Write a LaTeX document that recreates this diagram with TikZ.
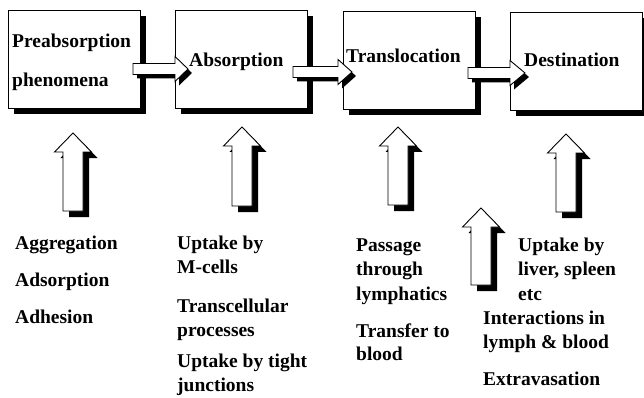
\documentclass[tikz,border=0pt]{standalone}
\usepackage{fontspec}
\setmainfont{Liberation Serif}
\usetikzlibrary{shadows}
\newcommand\uparrshape[3]{(#1,#2) -- (#1+18.5,#2+19) -- (#1+10,#2+19) -- (#1+10,#3) -- (#1-10,#3) -- (#1-10,#2+19) -- (#1-18.5,#2+19) -- cycle}
\newcommand\rarrshape[4]{(#1,#4-5.5) -- (#2,#4-5.5) -- (#2,#4-12.5) -- (#3,#4) -- (#2,#4+12.5) -- (#2,#4+5.5) -- (#1,#4+5.5) -- cycle}
\tikzset{
  boxnode/.style={draw, fill=white, line width=0.9pt, minimum width=132pt, minimum height=98pt,
    anchor=north west, inner sep=0pt,
    general shadow={fill=black, shadow xshift=6pt, shadow yshift=-6pt}},
  lbl/.style={anchor=base west, inner sep=0pt, font=\bfseries\fontsize{19.5}{24}\selectfont},
  blockbody/.style={fill=white, draw=black, line width=0.9pt, line join=miter},
  blockshadow/.style={fill=black},
}
\begin{document}
\begin{tikzpicture}[x=1pt, y=-1pt]
\useasboundingbox (0,0) rectangle (644,398);
% stage boxes
\node[boxnode] (b1) at (8,10) {};
\node[boxnode] (b2) at (175,10) {};
\node[boxnode] (b3) at (343,11) {};
\node[boxnode] (b4) at (510,12) {};
\node[lbl] (t1a) at (12,48) {Preabsorption};
\node[lbl] (t1b) at (12,87) {phenomena};
\node[lbl] (t2) at (189,67) {Absorption};
\node[lbl] (t3) at (346,63) {Translocation};
\node[lbl] (t4) at (524,67) {Destination};
% horizontal block arrows between boxes
\fill[blockshadow, shift={(4,4)}] \rarrshape{133}{175}{188}{69};
\filldraw[blockbody] \rarrshape{133}{175}{188}{69};
\fill[blockshadow, shift={(4,4)}] \rarrshape{293}{338}{352}{72};
\filldraw[blockbody] \rarrshape{293}{338}{352}{72};
\fill[blockshadow, shift={(4,4)}] \rarrshape{468}{510}{525}{73};
\filldraw[blockbody] \rarrshape{468}{510}{525}{73};
% vertical block arrows
\foreach \cx/\tip/\bot in {73/133/211, 242/127/206, 398/127/205, 566/134/212, 481/208/285}{
  \fill[blockshadow, shift={(6,6)}] \uparrshape{\cx}{\tip}{\bot};
  \filldraw[blockbody] \uparrshape{\cx}{\tip}{\bot};
}
% column 1
\node[lbl] (c1a) at (15,249) {Aggregation};
\node[lbl] (c1b) at (15,286) {Adsorption};
\node[lbl] (c1c) at (15,323) {Adhesion};
% column 2
\node[lbl] (c2a) at (177,249) {Uptake by};
\node[lbl] (c2b) at (177,273) {M-cells};
\node[lbl] (c2c) at (177,312) {Transcellular};
\node[lbl] (c2d) at (177,336) {processes};
\node[lbl] (c2e) at (177,367) {Uptake by tight};
\node[lbl] (c2f) at (177,391) {junctions};
% column 3
\node[lbl] (c3a) at (356,251) {Passage};
\node[lbl] (c3b) at (356,275) {through};
\node[lbl] (c3c) at (356,300) {lymphatics};
\node[lbl] (c3d) at (356,337) {Transfer to};
\node[lbl] (c3e) at (356,360) {blood};
% column 4
\node[lbl] (c4a) at (518,251) {Uptake by};
\node[lbl] (c4b) at (518,275) {liver, spleen};
\node[lbl] (c4c) at (518,300) {etc};
\node[lbl] (c4d) at (483,324) {Interactions in};
\node[lbl] (c4e) at (483,348) {lymph \& blood};
\node[lbl] (c4f) at (483,385) {Extravasation};
\end{tikzpicture}
\end{document}
